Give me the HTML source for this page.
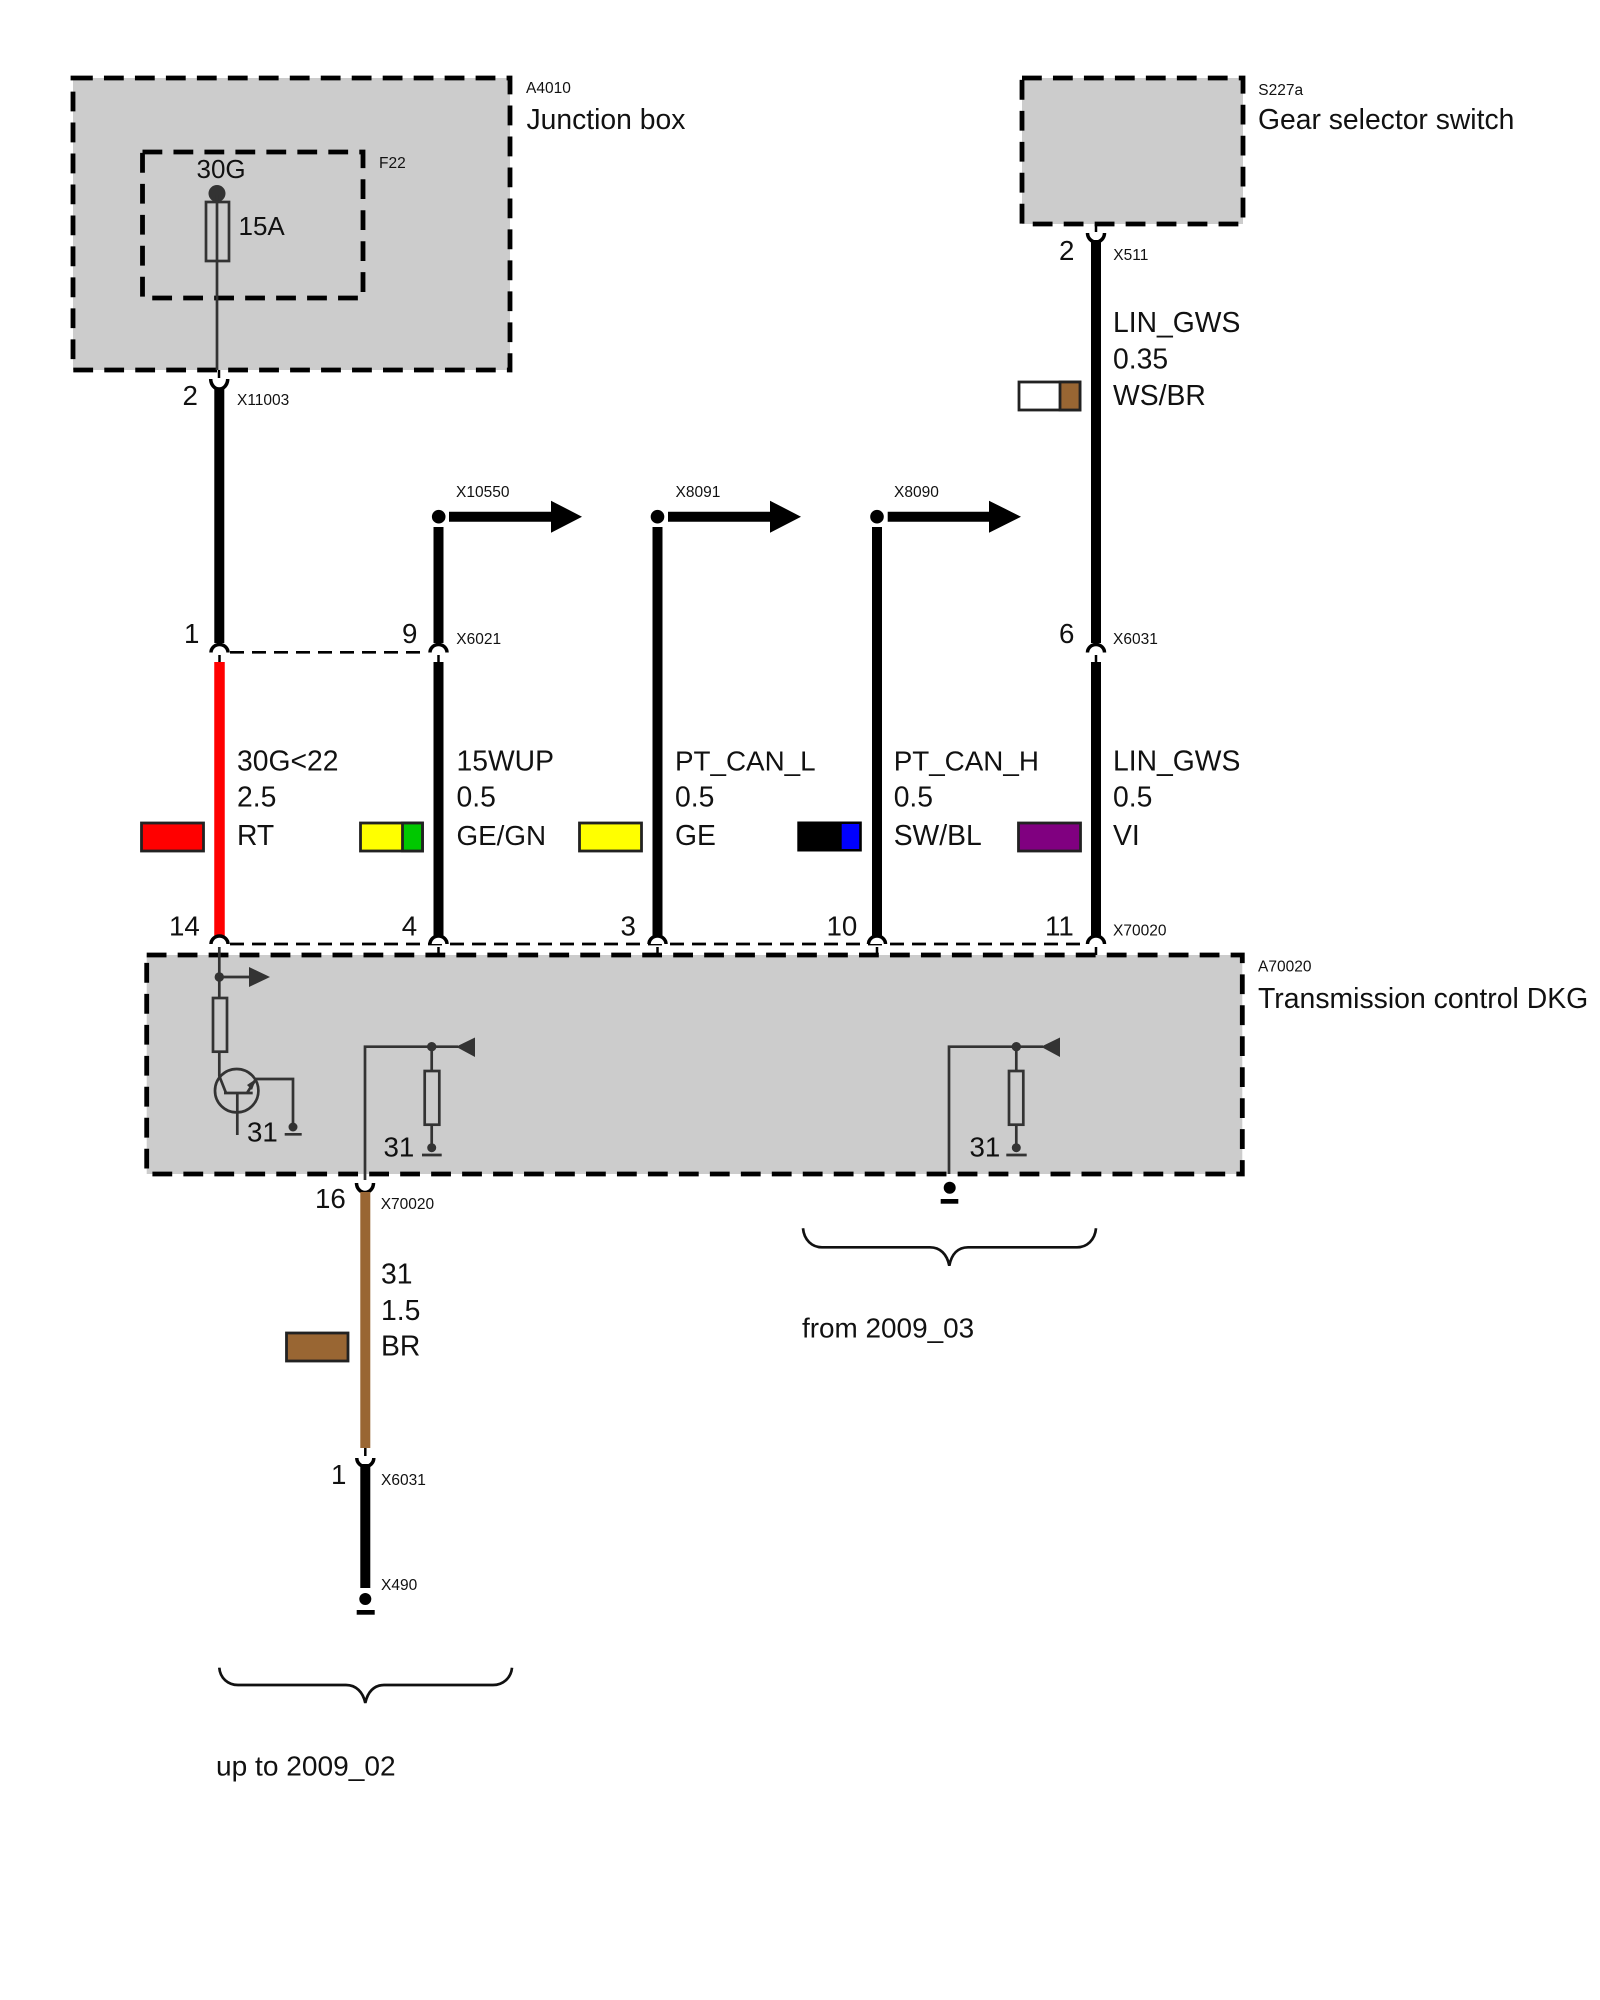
<!DOCTYPE html>
<html>
<head>
<meta charset="utf-8">
<style>
html,body{margin:0;padding:0;background:#fff}
svg{display:block}
text{font-family:"Liberation Sans",sans-serif;fill:#111;font-size:28.3px}
.s{font-size:15.5px}
.n{font-size:27.7px}
.f{font-size:26px}
.l{font-size:27.8px}
.box{fill:#ccc;stroke:#000;stroke-width:4.8;stroke-dasharray:19.8 11.17}
.in{fill:none;stroke:#000;stroke-width:4.8;stroke-dasharray:19.8 11.17}
.t{fill:none;stroke:#333;stroke-width:2.7}
.d{fill:#333}
.arc{fill:#fff;stroke:#000;stroke-width:3.5}
.cup{fill:none;stroke:#000;stroke-width:3.5}
.tick{stroke:#000;stroke-width:2.5}
.w{stroke:#000;stroke-width:10;fill:none}
.dash{stroke:#000;stroke-width:2.7;stroke-dasharray:14 8;fill:none}
.sw{stroke:#222;stroke-width:2.8}
.br{fill:none;stroke:#111;stroke-width:2.7}
</style>
</head>
<body>
<svg xmlns="http://www.w3.org/2000/svg" width="1600" height="2000" viewBox="0 0 1600 2000">
<rect width="1600" height="2000" fill="#fff"/>

<!-- boxes -->
<path class="box" d="M73,78H510V370H73Z"/>
<path class="in" d="M142.500,152H363V298H142.500Z"/>
<path class="box" d="M1022,78H1243V224H1022Z"/>
<path class="box" d="M146.700,955H1242.300V1174H146.700Z"/>

<!-- junction box contents -->
<circle class="d" cx="217" cy="193.500" r="8.500"/>
<rect class="t" x="206" y="202" width="23" height="59"/>
<path class="t" d="M217,195V370"/>
<text class="f" x="196.500" y="178">30G</text>
<text class="f" x="238.500" y="235">15A</text>
<text class="s" x="526" y="93">A4010</text>
<text x="526.500" y="129">Junction box</text>
<text class="s" x="379" y="168">F22</text>

<!-- gear box labels -->
<text class="s" x="1258.300" y="95">S227a</text>
<text x="1258" y="129">Gear selector switch</text>

<!-- connector top 2 -->
<path class="tick" d="M219,370V378"/>
<path class="cup" d="M210.700,379A8.500,10 0 0 0 227.700,379"/>
<path class="w" d="M219.300,388V643"/>
<text class="n" x="182.500" y="405">2</text>
<text class="s" x="237" y="405">X11003</text>

<!-- connector gear -->
<path class="tick" d="M1096,224V232"/>
<path class="cup" d="M1087.500,233A8.500,9 0 0 0 1104.500,233"/>
<path class="w" d="M1096,240V643"/>
<text class="n" x="1059" y="260">2</text>
<text class="s" x="1113.300" y="260">X511</text>
<text x="1113" y="332">LIN_GWS</text>
<text x="1113" y="368.500">0.35</text>
<text x="1113" y="405">WS/BR</text>
<rect class="sw" x="1019" y="382" width="61" height="28" fill="#fff"/>
<rect class="sw" x="1060" y="382" width="20" height="28" fill="#996633"/>

<!-- top arrows -->
<path class="w" d="M438.500,527V643"/>
<circle cx="438.700" cy="516.700" r="6.800" fill="#000"/>
<path class="w" d="M449,516.700H553"/>
<path d="M551,500.700V532.700L582,516.700Z" fill="#000"/>
<text class="s" x="456" y="497">X10550</text>

<path class="w" d="M657.500,527V936"/>
<circle cx="657.500" cy="516.700" r="6.800" fill="#000"/>
<path class="w" d="M668,516.700H772"/>
<path d="M770,500.700V532.700L801,516.700Z" fill="#000"/>
<text class="s" x="675.500" y="497">X8091</text>

<path class="w" d="M877,527V936"/>
<circle cx="877" cy="516.700" r="6.800" fill="#000"/>
<path class="w" d="M887.700,516.700H991"/>
<path d="M989,500.700V532.700L1021,516.700Z" fill="#000"/>
<text class="s" x="894" y="497">X8090</text>

<!-- middle wires -->
<path d="M219.500,662V936" stroke="#f00" stroke-width="10.500" fill="none"/>
<path class="w" d="M438.500,662V936"/>
<path class="w" d="M1096,662V936"/>

<!-- dashed lines -->
<path class="dash" d="M230,652.300H428"/>
<path class="dash" d="M230,944H1086"/>

<!-- arcs at 652 -->
<path class="arc" d="M211,652.500A8.500,8 0 0 1 228,652.500"/>
<path class="arc" d="M430,652.500A8.500,8 0 0 1 447,652.500"/>
<path class="arc" d="M1087.500,652.500A8.500,8 0 0 1 1104.500,652.500"/>
<path class="tick" d="M219.500,655V662M438.500,655V662M1096,655V662"/>

<!-- arcs at 944 -->
<path class="arc" d="M211,944A8.500,8 0 0 1 228,944"/>
<path class="arc" d="M430,944A8.500,8 0 0 1 447,944"/>
<path class="arc" d="M649,944A8.500,8 0 0 1 666,944"/>
<path class="arc" d="M868.500,944A8.500,8 0 0 1 885.500,944"/>
<path class="arc" d="M1087.500,944A8.500,8 0 0 1 1104.500,944"/>
<path class="tick" d="M438.500,947V955M657.500,947V955M877,947V955M1096,947V955"/>

<!-- pin labels -->
<text class="n" x="184" y="643">1</text>
<text class="n" x="402" y="643">9</text>
<text class="s" x="456.300" y="644">X6021</text>
<text class="n" x="1059" y="643">6</text>
<text class="s" x="1113" y="644">X6031</text>
<text class="n" x="169" y="935.500">14</text>
<text class="n" x="401.700" y="935.500">4</text>
<text class="n" x="620.500" y="935.500">3</text>
<text class="n" x="826.500" y="935.500">10</text>
<text class="n" x="1045" y="935.500">11</text>
<text class="s" x="1113" y="935.700">X70020</text>

<!-- wire labels -->
<text x="237" y="770.700">30G&lt;22</text>
<text x="237" y="806.700">2.5</text>
<text x="237" y="845">RT</text>
<text x="456.500" y="770.700">15WUP</text>
<text x="456.500" y="806.700">0.5</text>
<text x="456.500" y="845" class="l">GE/GN</text>
<text x="675" y="770.700" class="l">PT_CAN_L</text>
<text x="675" y="806.700">0.5</text>
<text x="675" y="845">GE</text>
<text x="893.700" y="770.700" class="l">PT_CAN_H</text>
<text x="893.700" y="806.700">0.5</text>
<text x="893.700" y="845">SW/BL</text>
<text x="1113" y="770.700">LIN_GWS</text>
<text x="1113" y="806.700">0.5</text>
<text x="1113" y="845">VI</text>

<!-- swatches -->
<rect class="sw" x="141.500" y="823" width="62" height="28" fill="#f00"/>
<rect class="sw" x="360.500" y="823" width="62" height="28" fill="#ff0"/>
<rect class="sw" x="402.500" y="823" width="20" height="28" fill="#00c800"/>
<rect class="sw" x="579.500" y="823" width="62" height="28" fill="#ff0"/>
<rect x="797.300" y="821.500" width="64.500" height="30" fill="#000"/>
<rect x="841.700" y="824" width="17.500" height="25" fill="#00f"/>
<rect class="sw" x="1018.500" y="823" width="62" height="28" fill="#800080"/>

<!-- DKG box contents -->
<text class="s" x="1258" y="971.700">A70020</text>
<text x="1258" y="1008" style="font-size:28.400px">Transmission control DKG</text>

<path class="t" d="M219.300,947V998"/>
<circle class="d" cx="219.300" cy="977" r="4.700"/>
<path class="t" d="M219.300,977H252"/>
<path class="d" d="M249,967V987L270,977Z"/>
<rect class="t" x="213" y="998" width="14" height="53.700"/>
<path class="t" d="M219.300,1051.700V1076L226,1093"/>
<circle class="t" cx="236.700" cy="1090.700" r="21.700"/>
<path class="t" d="M224,1093H252.700M237.300,1093V1135M247,1093L256,1079H293V1127"/>
<path class="d" d="M256,1079L247,1085L252,1090Z"/>
<circle class="d" cx="293" cy="1127" r="4.500"/>
<path class="t" d="M284.700,1134.300H301.700"/>
<text x="247" y="1141.700" class="n">31</text>

<path class="t" d="M365,1180V1046.700H458"/>
<circle class="d" cx="431.700" cy="1046.700" r="4.700"/>
<path class="d" d="M456,1046.700L475,1037.500V1057Z"/>
<path class="t" d="M431.700,1047V1071M431.700,1124.700V1147"/>
<rect class="t" x="424.700" y="1071" width="14.600" height="53.700"/>
<circle class="d" cx="431.700" cy="1147.700" r="4.500"/>
<path class="t" d="M422,1155H441.700"/>
<text x="383.500" y="1156.700" class="n">31</text>

<path class="t" d="M949,1174V1046.700H1043"/>
<circle class="d" cx="1016.300" cy="1046.700" r="4.700"/>
<path class="d" d="M1041,1046.700L1060,1037.500V1057Z"/>
<path class="t" d="M1016.300,1047V1071M1016.300,1124.700V1147"/>
<rect class="t" x="1009" y="1071" width="14.300" height="53.700"/>
<circle class="d" cx="1016.300" cy="1147.700" r="4.500"/>
<path class="t" d="M1006.300,1155H1026.700"/>
<text x="969.500" y="1156.700" class="n">31</text>

<!-- ground under box -->
<circle cx="949.700" cy="1187.700" r="6" fill="#000"/>
<rect x="940.700" y="1199" width="17.600" height="4.700" fill="#000"/>

<!-- connector 16 -->
<path class="cup" d="M356.500,1183A8.500,9.500 0 0 0 373.500,1183"/>
<path d="M365.300,1192V1448" stroke="#996633" stroke-width="10" fill="none"/>
<text class="n" x="315" y="1208">16</text>
<text class="s" x="380.700" y="1209">X70020</text>
<text x="381" y="1283.300">31</text>
<text x="381" y="1320">1.5</text>
<text x="381" y="1355.700">BR</text>
<rect class="sw" x="286.500" y="1333" width="61.500" height="28" fill="#996633"/>

<!-- lower connector -->
<path class="tick" d="M365.300,1448V1456"/>
<path class="cup" d="M356.800,1458A8.500,8.500 0 0 0 373.800,1458"/>
<path class="w" d="M365.300,1464V1588"/>
<text class="n" x="331" y="1484">1</text>
<text class="s" x="381" y="1485">X6031</text>
<text class="s" x="381" y="1590">X490</text>
<circle cx="365.300" cy="1599" r="6" fill="#000"/>
<rect x="356.700" y="1610" width="18" height="4.700" fill="#000"/>

<!-- braces -->
<path class="br" d="M219.300,1667.700C220,1678 228,1685 238,1685H346C356,1685 363,1692 365.300,1703C367.600,1692 374,1685 384,1685H493C503,1685 511,1678 512,1667.700"/>
<path class="br" d="M803,1228.300C804,1240 812,1247.300 822,1247.300H930C940,1247.300 947,1254 949.300,1265.700C951.600,1254 958,1247.300 968,1247.300H1077C1087,1247.300 1095,1240 1096,1228.300"/>
<text x="216" y="1775.700" style="font-size:28.100px">up to 2009_02</text>
<text x="802" y="1337.300" style="font-size:27.900px">from 2009_03</text>
</svg>
</body>
</html>
